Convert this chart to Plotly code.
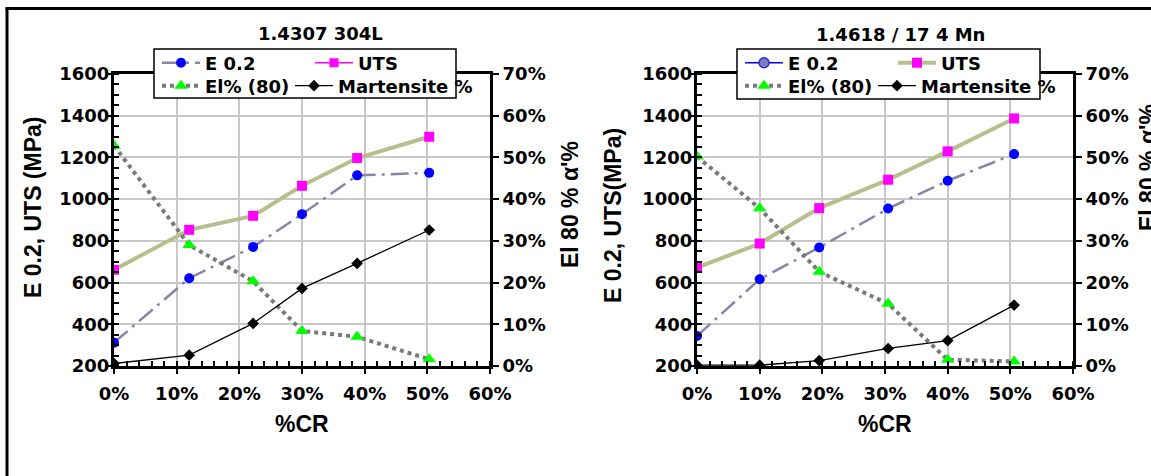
import plotly.graph_objects as go

W, H = 1151, 476

# ---- 1.4307 304L ----
cr_304 = [0.0, 0.12, 0.222, 0.30, 0.388, 0.503]
e02_304 = [312, 621, 771, 928, 1114, 1126]
uts_304 = [661, 853, 920, 1064, 1197, 1299]
el_304 = [0.528, 0.290, 0.203, 0.084, 0.070, 0.016]
mart_304 = [0.006, 0.026, 0.102, 0.186, 0.246, 0.326]

# ---- 1.4618 / 17 4 Mn ----
cr_4618 = [0.0, 0.10, 0.195, 0.305, 0.40, 0.506]
e02_4618 = [344, 616, 768, 955, 1088, 1216]
uts_4618 = [672, 787, 957, 1093, 1229, 1387]
el_4618 = [0.502, 0.378, 0.226, 0.149, 0.015, 0.011]
mart_4618 = [0.002, 0.002, 0.013, 0.042, 0.061, 0.146]

titles = ["1.4307 304L", "1.4618 / 17 4 Mn"]
left_titles = ["E 0.2, UTS (MPa)", "E 0.2, UTS(MPa)"]
right_title = "El 80 % α'%"
x_title = "%CR"
names = ["E 0.2", "UTS", "El% (80)", "Martensite %"]

TICK_FONT = dict(family="DejaVu Sans", size=18, color="black", weight="bold")
TITLE_FONT = dict(family="Liberation Sans, Arial", size=23, color="black", weight="bold")

E_COLOR = "#8b84a8"
UTS_COLOR = "#b8be8c"
EL_COLOR = "#7a7a7a"

# series styles: (line, marker)
STYLE = {
    "E 0.2": (dict(color=E_COLOR, width=2.5, dash="18px,6px,3px,6px"),
              dict(symbol="circle", size=10, color="#0000ff")),
    "UTS": (dict(color=UTS_COLOR, width=4),
            dict(symbol="square", size=10, color="#ff00ff")),
    "El% (80)": (dict(color=EL_COLOR, width=4, dash="dot"),
                 dict(symbol="triangle-up", size=12, color="#00ff00")),
    "Martensite %": (dict(color="black", width=1.3),
                     dict(symbol="diamond", size=9, color="black")),
}
# legend keys that use their own swatch style
LEGEND_SWATCH = [
    {"UTS": (dict(color="#ff00ff", width=1.5),
             dict(symbol="square", size=9, color="#ff00ff"))},
    {"E 0.2": (dict(color="#0000ff", width=1.5),
               dict(symbol="circle", size=10, color="#7f7fb8",
                    line=dict(color="#2a2ad0", width=1.5)))},
]


def px(x):
    return x / W


def py(y):
    return 1 - y / H


fig = go.Figure()

panels = [
    dict(cr=cr_304, vals=[e02_304, uts_304, el_304, mart_304],
         xa="x", ya="y", ya2="y2", leg=["legend2", "legend3", "legend4", "legend5"]),
    dict(cr=cr_4618, vals=[e02_4618, uts_4618, el_4618, mart_4618],
         xa="x2", ya="y3", ya2="y4", leg=["legend6", "legend7", "legend8", "legend9"]),
]

for p, swatch in zip(panels, LEGEND_SWATCH):
    for name, vals, leg in zip(names, p["vals"], p["leg"]):
        line, marker = STYLE[name]
        yax = p["ya"] if name in ("E 0.2", "UTS") else p["ya2"]
        own = name in swatch
        fig.add_trace(go.Scatter(
            x=p["cr"], y=vals, name=name, xaxis=p["xa"], yaxis=yax,
            mode="lines+markers", legend=leg, showlegend=not own,
            line=line, marker=marker))
        if own:
            sl, sm = swatch[name]
            fig.add_trace(go.Scatter(
                x=[None], y=[None], name=name, xaxis=p["xa"], yaxis=yax,
                mode="lines+markers", legend=leg, showlegend=True,
                line=sl, marker=sm, hoverinfo="skip"))

x_dom = [[px(114), px(490)], [px(697), px(1073)]]
y_dom = [py(366), py(74)]

common_x = dict(
    range=[0, 0.6], dtick=0.1, tick0=0, tickformat=".0%",
    showline=True, linewidth=3, linecolor="black", mirror=True,
    showgrid=True, gridcolor="#c8c8c8", gridwidth=1.5,
    ticks="outside", ticklen=5, tickwidth=2, tickcolor="black",
    ticklabelstandoff=4,
    minor=dict(dtick=0.02, tick0=0, ticks="inside", ticklen=5, tickwidth=1.5,
               tickcolor="black", showgrid=False),
    tickfont=TICK_FONT, zeroline=False, fixedrange=True, automargin=False)
common_y = dict(
    range=[200, 1600], dtick=200, tick0=200,
    showline=True, linewidth=3, linecolor="black",
    showgrid=True, gridcolor="#c8c8c8", gridwidth=1.5,
    ticks="outside", ticklen=5, tickwidth=2, tickcolor="black",
    ticklabelstandoff=-7,
    minor=dict(dtick=50, tick0=200, ticks="inside", ticklen=5, tickwidth=1.5,
               tickcolor="black", showgrid=False),
    tickfont=TICK_FONT, zeroline=False, fixedrange=True, domain=y_dom,
    automargin=False)
common_y2 = dict(
    range=[0, 0.7], dtick=0.1, tick0=0, tickformat=".0%", side="right",
    showline=True, linewidth=3, linecolor="black", showgrid=False,
    ticks="outside", ticklen=6, tickwidth=2, tickcolor="black",
    ticklabelstandoff=0,
    tickfont=TICK_FONT, zeroline=False, fixedrange=True, automargin=False)

fig.update_layout(
    width=W, height=H,
    margin=dict(l=0, r=0, t=0, b=0, pad=0, autoexpand=False),
    showlegend=True,
    paper_bgcolor="white", plot_bgcolor="white",
    xaxis=dict(common_x, domain=x_dom[0], anchor="y"),
    yaxis=dict(common_y, anchor="x"),
    yaxis2=dict(common_y2, overlaying="y", anchor="x"),
    xaxis2=dict(common_x, domain=x_dom[1], anchor="y3"),
    yaxis3=dict(common_y, anchor="x2"),
    yaxis4=dict(common_y2, overlaying="y3", anchor="x2"),
)

# Legend entries: one small legend per series, laid out two by two
leg_pos = [
    [(157, 63), (310, 63), (157, 86), (290, 86)],
    [(740, 63), (893, 63), (740, 86), (873, 86)],
]
leg_layout = {}
for p, pos in zip(panels, leg_pos):
    for key, (lx, ly) in zip(p["leg"], pos):
        leg_layout[key] = dict(
            x=px(lx), y=py(ly), xanchor="left", yanchor="middle",
            orientation="v", bgcolor="rgba(0,0,0,0)", borderwidth=0,
            itemwidth=38, font=TICK_FONT, itemclick=False, itemdoubleclick=False)
fig.update_layout(**leg_layout)

shapes = []
# legend frames
for (x0, y0, x1, y1) in [(154, 49, 456, 98), (737, 49, 1040, 99)]:
    shapes.append(dict(type="rect", xref="paper", yref="paper",
                       x0=px(x0), x1=px(x1), y0=py(y1), y1=py(y0),
                       fillcolor="white", line=dict(color="black", width=1.5),
                       layer="above"))
# outer frame edges (top and left)
shapes.append(dict(type="line", xref="paper", yref="paper",
                   x0=px(5.5), x1=1, y0=py(8.5), y1=py(8.5),
                   line=dict(color="black", width=3)))
shapes.append(dict(type="line", xref="paper", yref="paper",
                   x0=px(7), x1=px(7), y0=py(8.5), y1=0,
                   line=dict(color="black", width=3)))
fig.update_layout(shapes=shapes)

ann = []
ann.append(dict(text=titles[0], x=px(320), y=py(34), xref="paper", yref="paper",
                showarrow=False, xanchor="center", yanchor="middle", font=TICK_FONT))
ann.append(dict(text=titles[1], x=px(900), y=py(35), xref="paper", yref="paper",
                showarrow=False, xanchor="center", yanchor="middle", font=TICK_FONT))
for cx in (302, 885):
    ann.append(dict(text=x_title, x=px(cx), y=py(424), xref="paper", yref="paper",
                    showarrow=False, xanchor="center", yanchor="middle", font=TITLE_FONT))
ann.append(dict(text=left_titles[0], x=px(33), y=py(208), xref="paper", yref="paper",
                showarrow=False, textangle=-90, xanchor="center", yanchor="middle",
                font=TITLE_FONT))
ann.append(dict(text=left_titles[1], x=px(613), y=py(216), xref="paper", yref="paper",
                showarrow=False, textangle=-90, xanchor="center", yanchor="middle",
                font=TITLE_FONT))
ann.append(dict(text=right_title, x=px(570), y=py(205), xref="paper", yref="paper",
                showarrow=False, textangle=-90, xanchor="center", yanchor="middle",
                font=TITLE_FONT))
ann.append(dict(text=right_title, x=px(1148), y=py(168), xref="paper", yref="paper",
                showarrow=False, textangle=-90, xanchor="center", yanchor="middle",
                font=TITLE_FONT))
fig.update_layout(annotations=ann)

fig.write_html("out.html", config={"displayModeBar": False})
